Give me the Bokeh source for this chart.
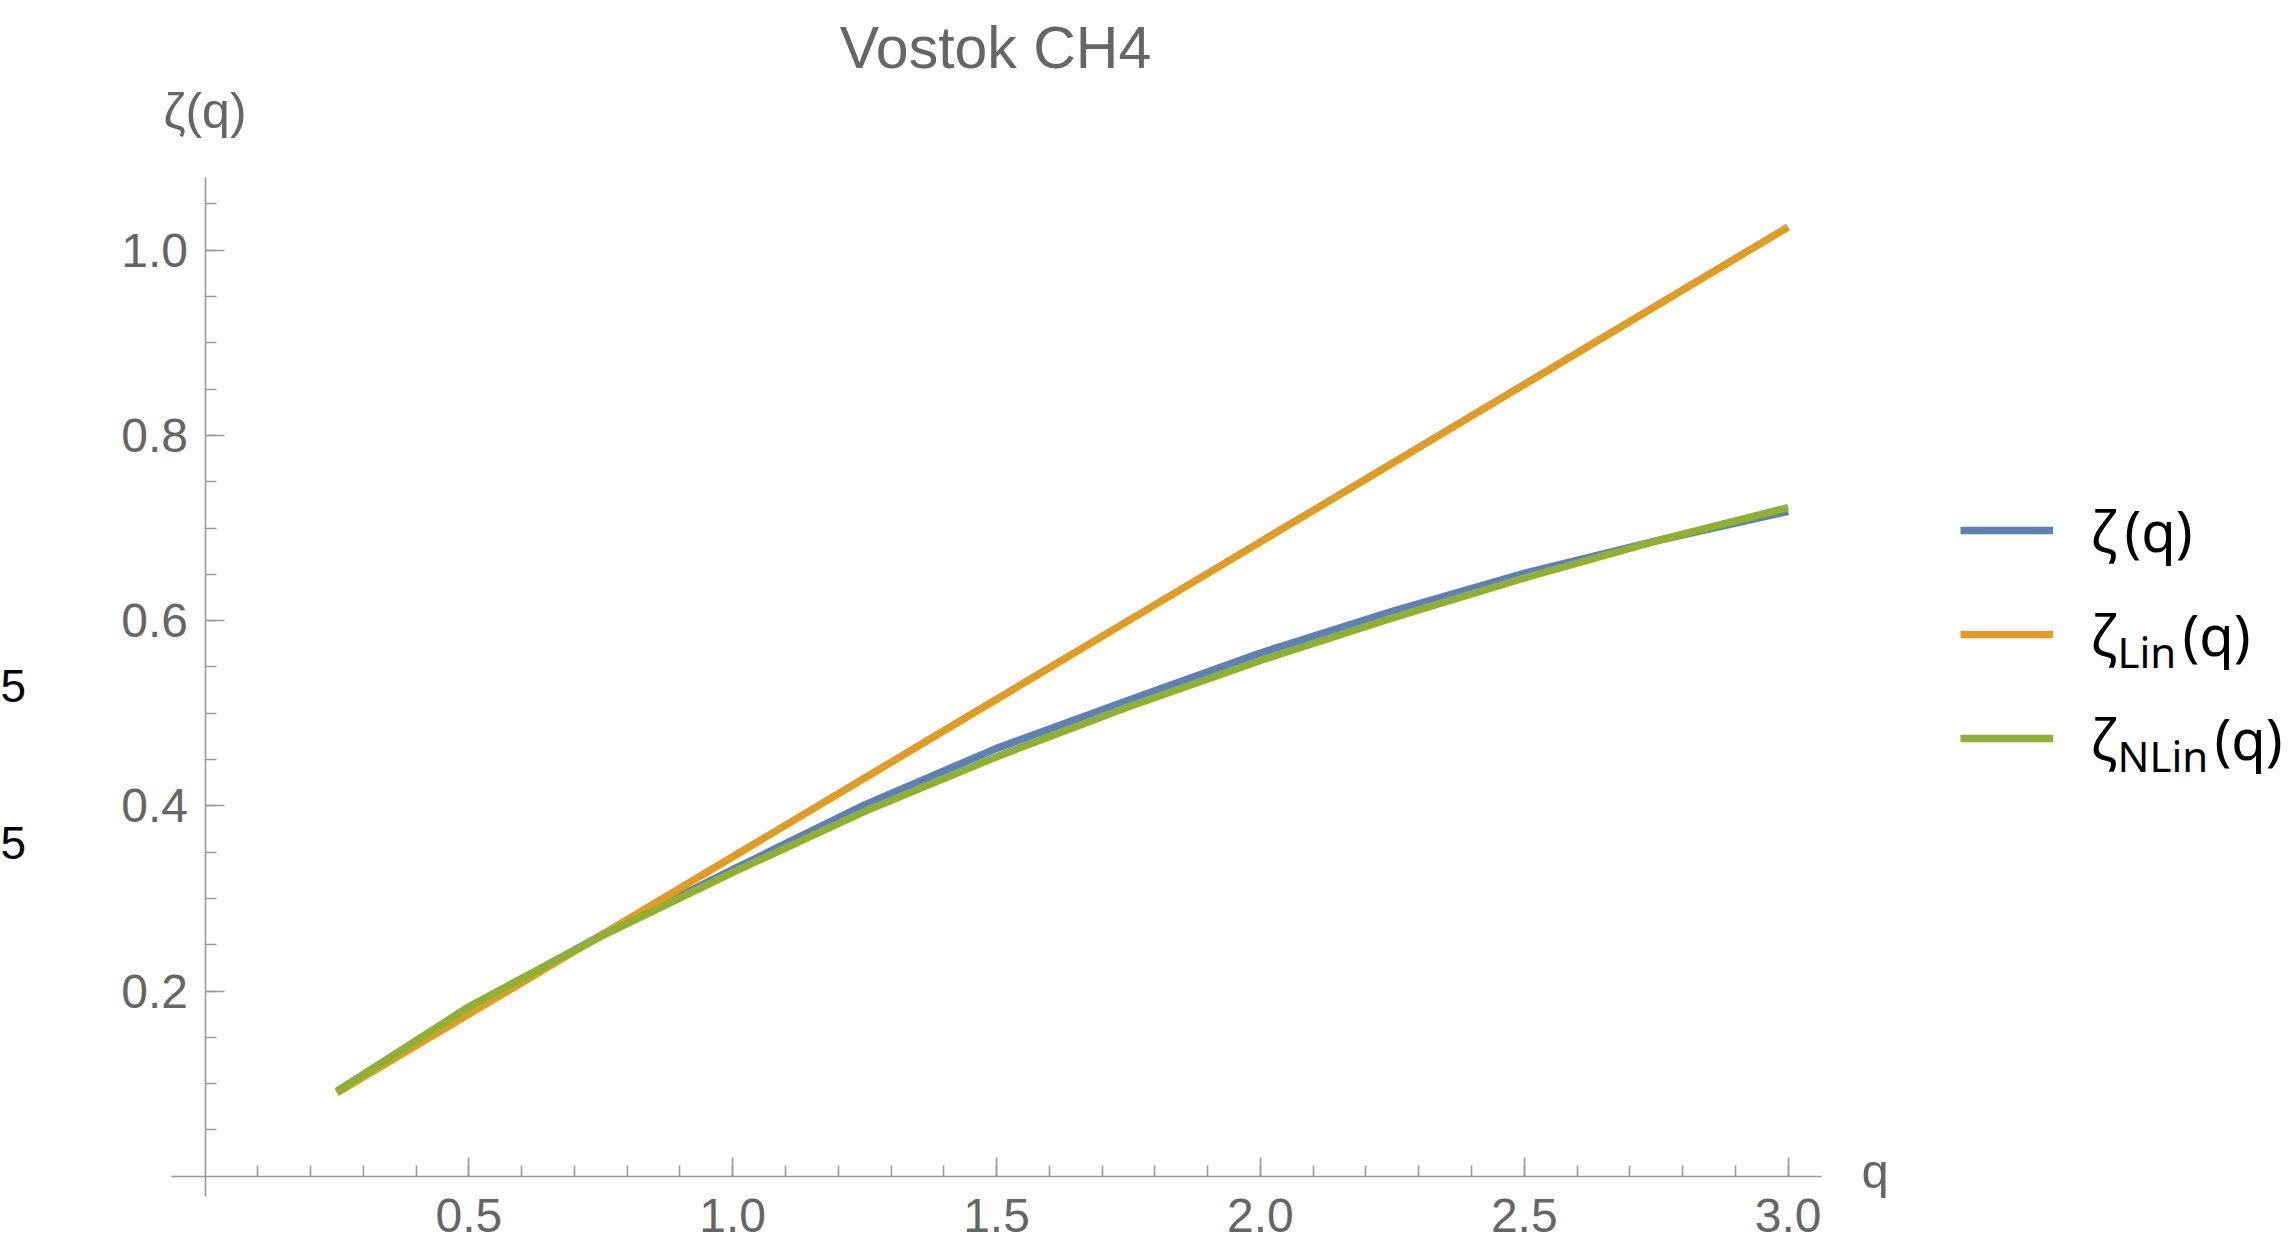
from bokeh.plotting import figure
from bokeh.models import FixedTicker, Label, Legend, LegendItem, Range1d, BasicTickFormatter
from bokeh.embed import file_html
from bokeh.resources import INLINE

# ---------------- data ----------------
q = [0.25, 0.5, 0.75, 1.0, 1.25, 1.5, 1.75, 2.0, 2.25, 2.5, 2.75, 3.0]
zeta = [0.0915, 0.181, 0.260, 0.331, 0.401, 0.462, 0.514, 0.565, 0.610, 0.651, 0.686, 0.718]
zeta_lin = [0.090, 0.175, 0.260, 0.345, 0.430, 0.515, 0.600, 0.685, 0.770, 0.855, 0.940, 1.025]
zeta_nlin = [0.0915, 0.183, 0.259, 0.328, 0.394, 0.453, 0.507, 0.557, 0.603, 0.646, 0.686, 0.722]

x_major = [0.5, 1.0, 1.5, 2.0, 2.5, 3.0]
x_labels = ["0.5", "1.0", "1.5", "2.0", "2.5", "3.0"]
x_minor = [round(0.1 * i, 2) for i in range(1, 31)]
y_major = [0.2, 0.4, 0.6, 0.8, 1.0]
y_labels = ["0.2", "0.4", "0.6", "0.8", "1.0"]
y_minor = [round(0.05 * i, 2) for i in range(1, 22)]

title_text = "Vostok CH4"
colors = ["#5E81B5", "#E19C24", "#8FB032"]

# ---------------- layout (reference pixels) ----------------
W, H = 2290, 1245
OX, PXX = 204.5, 527.7     # x=0 pixel, pixels per unit
OY, PXY = 1175.7, 926.0    # y=0 pixel, pixels per unit
X0 = (0 - OX) / PXX
X1 = (W - OX) / PXX
Y1 = (OY - 0) / PXY
Y0 = (OY - H) / PXY
K = 0.36  # baseline correction (fraction of font size)


def dx(X):
    return (X - OX) / PXX


def dy(Y):
    return (OY - Y) / PXY


def add_text(X, Yb, text, size, color, font, align="left"):
    p.add_layout(Label(x=dx(X), y=dy(Yb - K * size), text=text, text_font=font,
                       text_font_size=f"{size}px", text_color=color,
                       text_align=align, text_baseline="alphabetic"))


p = figure(width=W, height=H, x_range=Range1d(X0, X1), y_range=Range1d(Y0, Y1),
           output_backend="svg", toolbar_location=None, min_border=0,
           outline_line_color=None, background_fill_color="white")
p.grid.visible = False

AX_COL = "#9a9a9a"
TXT_COL = "#666666"
FONT = "Liberation Sans"

xa = p.xaxis[0]
ya = p.yaxis[0]
xa.fixed_location = 0
ya.fixed_location = 0
xa.bounds = (-0.064, 3.063)
ya.bounds = (-0.022, 1.079)
xa.ticker = FixedTicker(ticks=x_major, minor_ticks=x_minor)
ya.ticker = FixedTicker(ticks=y_major, minor_ticks=y_minor)
xa.formatter = BasicTickFormatter(precision=1)
ya.formatter = BasicTickFormatter(precision=1)
xa.major_label_overrides = {t: s for t, s in zip(x_major, x_labels)}
ya.major_label_overrides = {t: s for t, s in zip(y_major, y_labels)}
for ax in (xa, ya):
    ax.axis_line_color = AX_COL
    ax.axis_line_width = 1.6
    ax.major_tick_line_color = AX_COL
    ax.major_tick_line_width = 1.6
    ax.minor_tick_line_color = AX_COL
    ax.minor_tick_line_width = 1.6
    ax.major_tick_in = 19
    ax.major_tick_out = 0
    ax.minor_tick_in = 11
    ax.minor_tick_out = 0
    ax.major_label_text_font = FONT
    ax.major_label_text_font_size = "48px"
    ax.major_label_text_color = TXT_COL
xa.major_label_standoff = 23
ya.major_label_standoff = 17

LW = 7.5
r1 = p.line(q, zeta, line_color=colors[0], line_width=LW)
r2 = p.line(q, zeta_lin, line_color=colors[1], line_width=LW)
r3 = p.line(q, zeta_nlin, line_color=colors[2], line_width=LW)

# legend swatches
item_h = 20
gap = 84
row_pitch = item_h + gap
first_row_y = 529.5
legend_h = 3 * item_h + 2 * gap
legend_bottom = first_row_y - item_h / 2 + legend_h
leg = Legend(items=[LegendItem(label=" ", renderers=[r]) for r in (r1, r2, r3)],
             location=(1960, H - legend_bottom),
             glyph_width=93, glyph_height=item_h, label_height=item_h,
             label_text_font_size="8px", spacing=gap,
             padding=0, margin=0, border_line_color=None,
             background_fill_alpha=0, label_standoff=0)
p.add_layout(leg, "center")

# legend texts (with subscripts)
LFONT = "Noto Sans"
subs = ["", "Lin", "NLin"]
paren_x = [2124, 2182, 2214]
for i in range(3):
    base = first_row_y + i * row_pitch + 20.5
    add_text(2090, base, "ζ", 56, "black", LFONT)
    if subs[i]:
        add_text(2117, base + 12, subs[i], 42, "black", LFONT)
    add_text(paren_x[i], base, "(q)", 56, "black", LFONT)

# title and axis labels
add_text(995, 68.5, title_text, 59, TXT_COL, FONT, "center")
add_text(204.5, 128, "ζ(q)", 50, TXT_COL, FONT, "center")
add_text(1861, 1188, "q", 49, TXT_COL, FONT)

# stray labels at the left edge
for Yb in (701.7, 859.3):
    add_text(0, Yb, "5", 46, "black", FONT)

open("out.html", "w").write(file_html(p, INLINE))
